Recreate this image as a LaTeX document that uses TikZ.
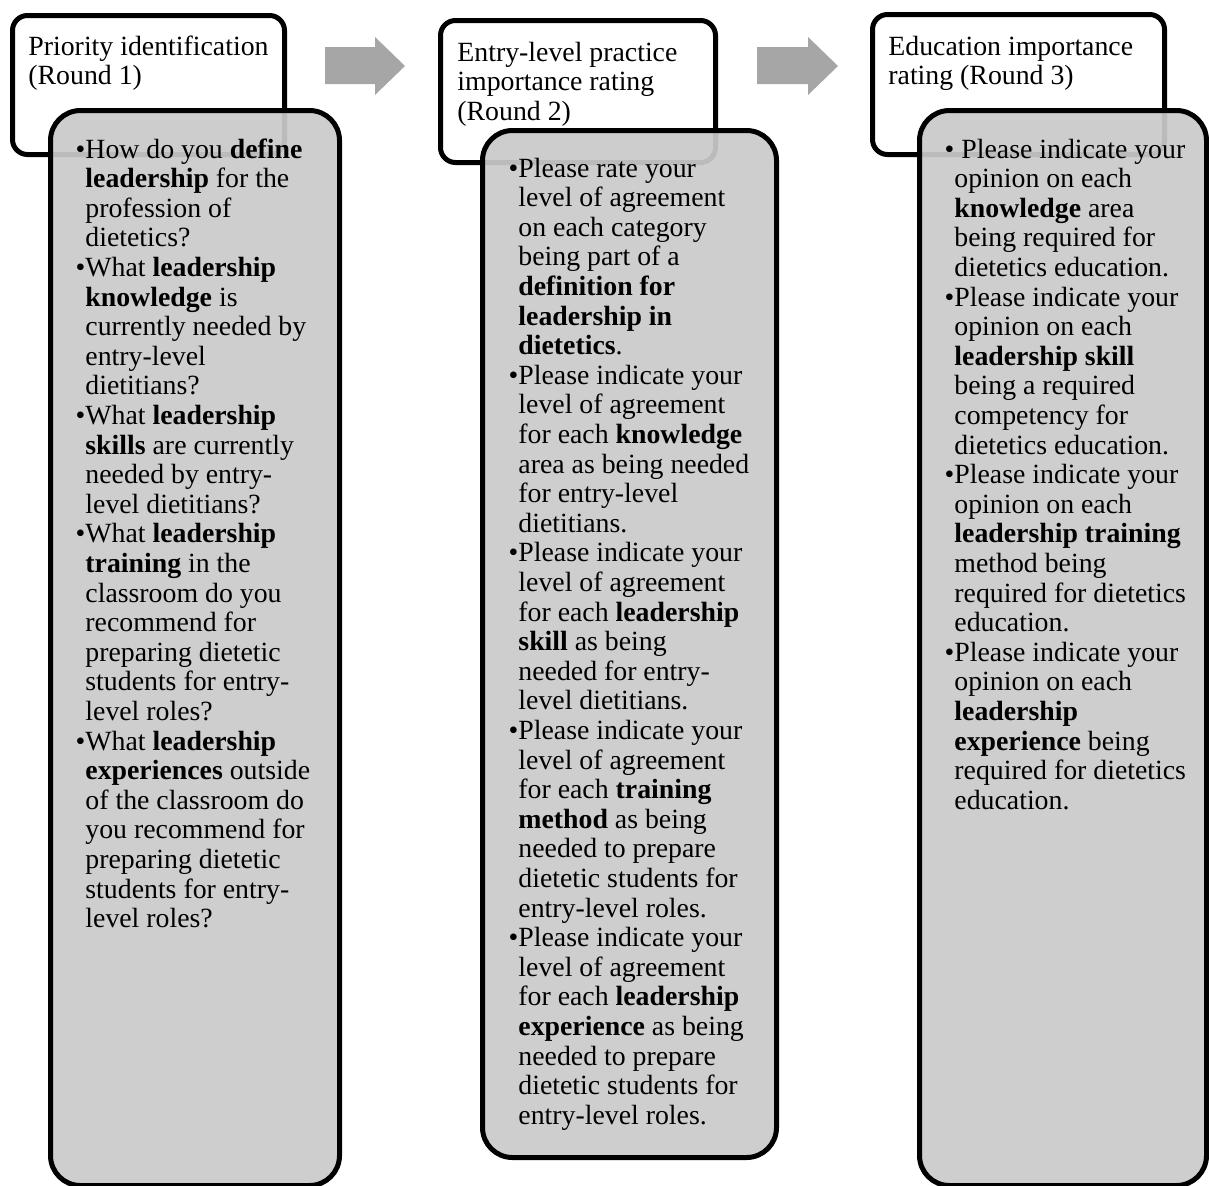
\documentclass[tikz,border=0pt]{standalone}
\usepackage{fontspec}
\setmainfont{Liberation Serif}
\usepackage{array}

\definecolor{boxgray}{RGB}{202,202,202}
\definecolor{arrowgray}{RGB}{166,166,166}

\newcommand{\bul}{\textbullet\hspace{0.5pt}&}
\newcommand{\rnd}[1]{\begin{tabular}[t]{@{}l@{}}#1\end{tabular}}
\newcommand{\lst}[1]{\begin{tabular}[t]{@{}l@{}l@{}}#1\end{tabular}}

\tikzset{
  hdrbox/.style={draw=black, line width=2.5pt, fill=white, rounded corners=7.5pt},
  bodybox/.style={draw=black, line width=2.5pt, fill=boxgray, fill opacity=0.93, rounded corners=15pt},
  blockarrow/.style={fill=arrowgray},
  txt/.style={anchor=base west, inner sep=0pt, font=\fontsize{13.9}{14.8}\selectfont},
}

\begin{document}
\begin{tikzpicture}[x=0.5pt, y=-0.5pt]
\useasboundingbox (0,0) rectangle (1209,1185);
%% arrows
\fill[blockarrow] (325,47) -- (375,47) -- (375,37) -- (405,66) -- (375,95) -- (375,84) -- (325,84) -- cycle;
\fill[blockarrow] (757,47) -- (808,47) -- (808,37) -- (838,66) -- (808,95) -- (808,84) -- (757,84) -- cycle;

%% round 1
\draw[hdrbox] (12.5,15.5) rectangle (284.5,154.5);
\draw[bodybox] (50.5,110.5) rectangle (339.5,1185.5);
\node[txt] (hd1) at (28,55) {\rnd{Priority identification\\(Round 1)}};
\node[txt] (bd1) at (75.3,158) {\lst{%
\bul How do you \textbf{define}\\
& \textbf{leadership} for the\\
& profession of\\
& dietetics?\\
\bul What \textbf{leadership}\\
& \textbf{knowledge} is\\
& currently needed by\\
& entry-level\\
& dietitians?\\
\bul What \textbf{leadership}\\
& \textbf{skills} are currently\\
& needed by entry-\\
& level dietitians?\\
\bul What \textbf{leadership}\\
& \textbf{training} in the\\
& classroom do you\\
& recommend for\\
& preparing dietetic\\
& students for entry-\\
& level roles?\\
\bul What \textbf{leadership}\\
& \textbf{experiences} outside\\
& of the classroom do\\
& you recommend for\\
& preparing dietetic\\
& students for entry-\\
& level roles?}};

%% round 2
\draw[hdrbox] (440.5,20.5) rectangle (715.5,162.5);
\draw[bodybox] (482.5,130.5) rectangle (776.5,1157.5);
\node[txt] (hd2) at (457,61) {\rnd{Entry-level practice\\importance rating\\(Round 2)}};
\node[txt] (bd2) at (508.3,177) {\lst{%
\bul Please rate your\\
& level of agreement\\
& on each category\\
& being part of a\\
& \textbf{definition for}\\
& \textbf{leadership in}\\
& \textbf{dietetics}.\\
\bul Please indicate your\\
& level of agreement\\
& for each \textbf{knowledge}\\
& area as being needed\\
& for entry-level\\
& dietitians.\\
\bul Please indicate your\\
& level of agreement\\
& for each \textbf{leadership}\\
& \textbf{skill} as being\\
& needed for entry-\\
& level dietitians.\\
\bul Please indicate your\\
& level of agreement\\
& for each \textbf{training}\\
& \textbf{method} as being\\
& needed to prepare\\
& dietetic students for\\
& entry-level roles.\\
\bul Please indicate your\\
& level of agreement\\
& for each \textbf{leadership}\\
& \textbf{experience} as being\\
& needed to prepare\\
& dietetic students for\\
& entry-level roles.}};

%% round 3
\draw[hdrbox] (872.5,14.5) rectangle (1164.5,154.5);
\draw[bodybox] (919.5,110.5) rectangle (1206.5,1185.5);
\node[txt] (hd3) at (888,55) {\rnd{Education importance\\rating (Round 3)}};
\node[txt] (bd3) at (944.3,158) {\lst{%
\bul \ Please indicate your\\
& opinion on each\\
& \textbf{knowledge} area\\
& being required for\\
& dietetics education.\\
\bul Please indicate your\\
& opinion on each\\
& \textbf{leadership skill}\\
& being a required\\
& competency for\\
& dietetics education.\\
\bul Please indicate your\\
& opinion on each\\
& \textbf{leadership training}\\
& method being\\
& required for dietetics\\
& education.\\
\bul Please indicate your\\
& opinion on each\\
& \textbf{leadership}\\
& \textbf{experience} being\\
& required for dietetics\\
& education.}};
\end{tikzpicture}
\end{document}
